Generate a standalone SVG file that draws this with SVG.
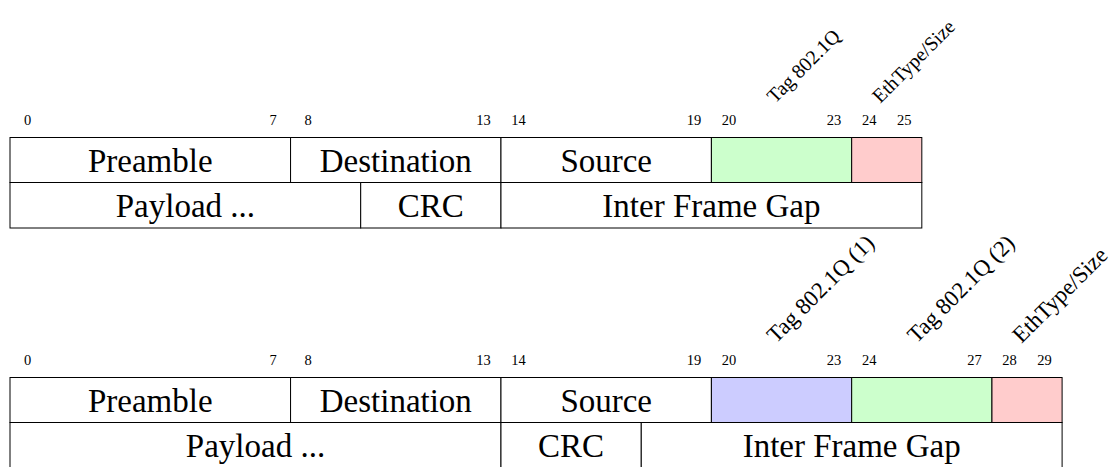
<svg xmlns="http://www.w3.org/2000/svg" width="1118" height="467" viewBox="0 0 1118 467">
<style>
.cell{fill:#fff;stroke:#000;stroke-width:1}
.g{fill:#ccffcc}
.r{fill:#ffcccc}
.b{fill:#ccccff}
.lbl{font-family:"Liberation Serif",serif;font-size:33px;fill:#000;text-anchor:middle}
.num{font-family:"Liberation Serif",serif;font-size:14.5px;fill:#000;text-anchor:middle}
.rot{font-family:"Liberation Serif",serif;font-size:20px;fill:#000}
.rot2{font-family:"Liberation Serif",serif;font-size:23px;fill:#000}
</style>
<rect width="1118" height="467" fill="#fff"/>
<g id="frame1">
  <g id="f1-numbers">
    <text class="num" x="27.5" y="125">0</text>
    <text class="num" x="273" y="125">7</text>
    <text class="num" x="308.1" y="125">8</text>
    <text class="num" x="483.5" y="125">13</text>
    <text class="num" x="518.5" y="125">14</text>
    <text class="num" x="693.9" y="125">19</text>
    <text class="num" x="728.9" y="125">20</text>
    <text class="num" x="834.1" y="125">23</text>
    <text class="num" x="869.2" y="125">24</text>
    <text class="num" x="904.3" y="125">25</text>
  </g>
  <g id="f1-tags">
    <text class="rot" transform="translate(775,104) rotate(-45)">Tag 802.1Q</text>
    <text class="rot" transform="translate(880.3,104) rotate(-45)">EthType/Size</text>
  </g>
  <g id="f1-preamble"><rect class="cell" x="10" y="137.5" width="280.56" height="45"/><text class="lbl" x="150.3" y="171.5">Preamble</text></g>
  <g id="f1-destination"><rect class="cell" x="290.56" y="137.5" width="210.42" height="45"/><text class="lbl" x="395.8" y="171.5">Destination</text></g>
  <g id="f1-source"><rect class="cell" x="500.98" y="137.5" width="210.42" height="45"/><text class="lbl" x="606.2" y="171.5">Source</text></g>
  <g id="f1-tag"><rect class="cell g" x="711.4" y="137.5" width="140.28" height="45"/></g>
  <g id="f1-ethtype"><rect class="cell r" x="851.68" y="137.5" width="70.14" height="45"/></g>
  <g id="f1-payload"><rect class="cell" x="10" y="182.5" width="350.7" height="45.5"/><text class="lbl" x="185.4" y="216.5">Payload ...</text></g>
  <g id="f1-crc"><rect class="cell" x="360.7" y="182.5" width="140.28" height="45.5"/><text class="lbl" x="430.8" y="216.5">CRC</text></g>
  <g id="f1-ifg"><rect class="cell" x="500.98" y="182.5" width="420.84" height="45.5"/><text class="lbl" x="711.4" y="216.5">Inter Frame Gap</text></g>
</g>
<g id="frame2">
  <g id="f2-numbers">
    <text class="num" x="27.5" y="365">0</text>
    <text class="num" x="273" y="365">7</text>
    <text class="num" x="308.1" y="365">8</text>
    <text class="num" x="483.5" y="365">13</text>
    <text class="num" x="518.5" y="365">14</text>
    <text class="num" x="693.9" y="365">19</text>
    <text class="num" x="728.9" y="365">20</text>
    <text class="num" x="834.1" y="365">23</text>
    <text class="num" x="869.2" y="365">24</text>
    <text class="num" x="974.4" y="365">27</text>
    <text class="num" x="1009.5" y="365">28</text>
    <text class="num" x="1044.6" y="365">29</text>
  </g>
  <g id="f2-tags">
    <text class="rot2" transform="translate(776,344) rotate(-45)">Tag 802.1Q (1)</text>
    <text class="rot2" transform="translate(916.4,344) rotate(-45)">Tag 802.1Q (2)</text>
    <text class="rot2" transform="translate(1021.6,344) rotate(-45)">EthType/Size</text>
  </g>
  <g id="f2-preamble"><rect class="cell" x="10" y="377.5" width="280.56" height="45"/><text class="lbl" x="150.3" y="411.5">Preamble</text></g>
  <g id="f2-destination"><rect class="cell" x="290.56" y="377.5" width="210.42" height="45"/><text class="lbl" x="395.8" y="411.5">Destination</text></g>
  <g id="f2-source"><rect class="cell" x="500.98" y="377.5" width="210.42" height="45"/><text class="lbl" x="606.2" y="411.5">Source</text></g>
  <g id="f2-tag1"><rect class="cell b" x="711.4" y="377.5" width="140.28" height="45"/></g>
  <g id="f2-tag2"><rect class="cell g" x="851.68" y="377.5" width="140.28" height="45"/></g>
  <g id="f2-ethtype"><rect class="cell r" x="991.96" y="377.5" width="70.14" height="45"/></g>
  <g id="f2-payload"><rect class="cell" x="10" y="422.5" width="490.98" height="46"/><text class="lbl" x="255.5" y="456.5">Payload ...</text></g>
  <g id="f2-crc"><rect class="cell" x="500.98" y="422.5" width="140.28" height="46"/><text class="lbl" x="571.1" y="456.5">CRC</text></g>
  <g id="f2-ifg"><rect class="cell" x="641.26" y="422.5" width="420.84" height="46"/><text class="lbl" x="851.7" y="456.5">Inter Frame Gap</text></g>
</g>
<g id="connectors"/>
</svg>
